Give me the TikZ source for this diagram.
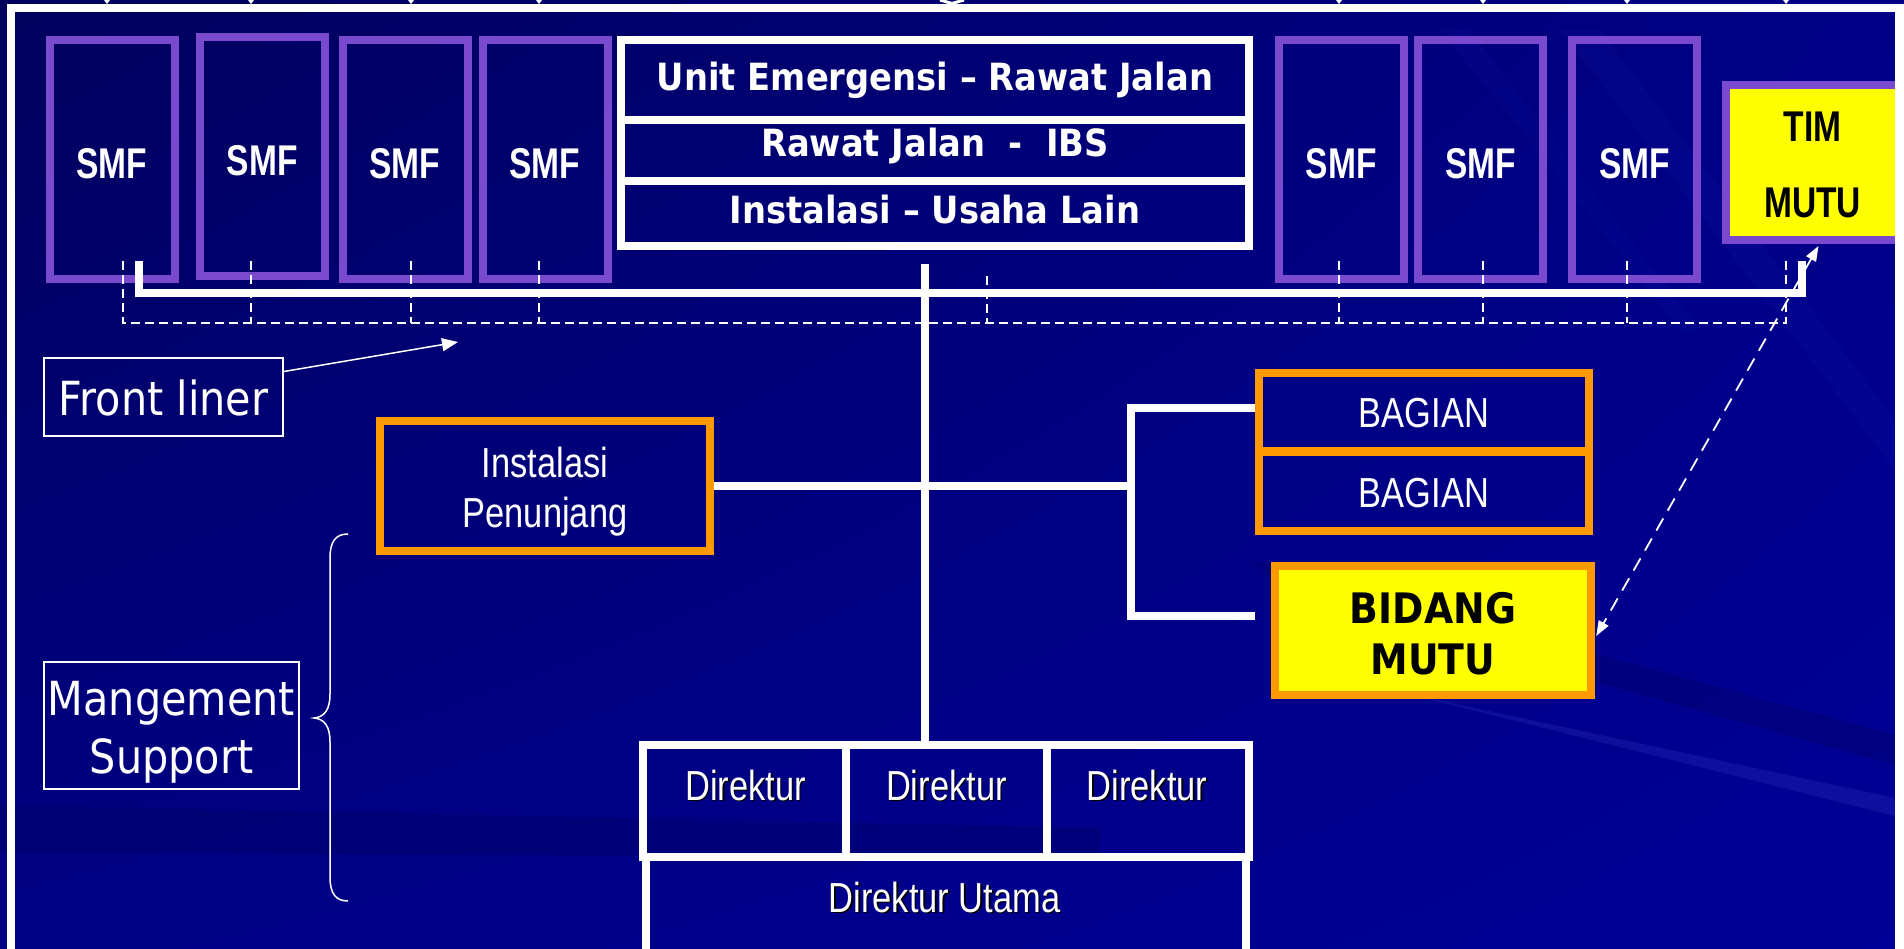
\documentclass[tikz,border=0pt]{standalone}
\usepackage{fontspec}
\setmainfont{Liberation Sans}
\newfontfamily\tah{DejaVu Sans}
\usepackage{graphicx}
\usetikzlibrary{arrows.meta,calc,shadings}

\definecolor{purp}{RGB}{122,74,206}
\definecolor{orng}{RGB}{255,153,0}
\definecolor{yel}{RGB}{255,255,0}
\definecolor{bgUL}{RGB}{0,0,92}
\definecolor{bgUR}{RGB}{0,0,135}
\definecolor{bgLL}{RGB}{0,0,132}
\definecolor{bgLR}{RGB}{0,0,150}
\definecolor{bgDark}{RGB}{0,0,100}
\definecolor{bgLight}{RGB}{30,30,170}

\newcommand\txA[1]{\fontsize{42}{42}\selectfont\scalebox{0.82}[1]{#1}}
\newcommand\txAB[1]{\fontsize{43}{43}\selectfont\bfseries\scalebox{0.78}[1]{#1}}
\newcommand\txT[1]{\tah\fontsize{47}{47}\selectfont\scalebox{0.88}[1]{#1}}
\newcommand\txTB[2]{\tah\bfseries\fontsize{#1}{#1}\selectfont\scalebox{0.9}[1]{#2}}

\begin{document}
\begin{tikzpicture}[x=1pt,y=-1pt,
  box/.style={draw, rectangle, inner sep=0pt},
  smf/.style={box, draw=purp, line width=8pt, minimum width=125pt, minimum height=239pt},
  wbox/.style={box, draw=white, line width=8pt},
  obox/.style={box, draw=orng, line width=8pt},
  thin/.style={box, draw=white, line width=2pt},
  wt/.style={text=white, anchor=base, inner sep=0pt},
  bt/.style={text=black, anchor=base, inner sep=0pt},
  thk/.style={white, line width=8pt},
  dsh/.style={white, line width=1.8pt, dash pattern=on 9pt off 5pt},
]
\useasboundingbox (0,0) rectangle (1904,949);
\clip (0,0) rectangle (1904,949);

% background
\shade[upper left=bgUL, upper right=bgUR, lower left=bgLL, lower right=bgLR] (0,0) rectangle (1904,949);
\fill[bgDark, opacity=.4] (0,805) -- (1100,828) -- (1100,858) -- (0,852) -- cycle;
\fill[bgDark, opacity=.35] (1250,560) -- (1895,735) -- (1895,765) -- (1300,600) -- cycle;
\fill[bgLight, opacity=.5] (1400,692) -- (1895,798) -- (1895,816) -- (1480,712) -- cycle;
\fill[bgLight, opacity=.15] (1560,30) -- (1600,30) -- (1895,420) -- (1895,470) -- cycle;
\fill[bgLight, opacity=.12] (1440,30) -- (1470,30) -- (1700,330) -- (1680,330) -- cycle;

% outer frame
\draw[white, line width=8pt] (11,1000) -- (11,8) -- (1910,8);

% cut-off arrow tips above the frame
\foreach \x in {107,251,411,539,1339,1483,1627,1786}
  \fill[white] (\x-3,0) -- (\x+3,0) -- (\x,4) -- cycle;
\draw[white, line width=3pt] (940,0) -- (952,3.5) -- (964,0);

% SMF boxes
\node[smf] (smf1) at (112,159.5) {};
\node[smf] (smf2) at (262.25,156.5) {};
\node[smf] (smf3) at (405,159.5) {};
\node[smf] (smf4) at (545,159.5) {};
\node[smf] (smf5) at (1341.25,159.5) {};
\node[smf] (smf6) at (1480.5,159.5) {};
\node[smf] (smf7) at (1634.5,159.5) {};
\node[wt] (t1) at (112,179) {\txAB{SMF}};
\node[wt] (t2) at (262.25,176) {\txAB{SMF}};
\node[wt] (t3) at (405,179) {\txAB{SMF}};
\node[wt] (t4) at (545,179) {\txAB{SMF}};
\node[wt] (t5) at (1341.25,179) {\txAB{SMF}};
\node[wt] (t6) at (1480.5,179) {\txAB{SMF}};
\node[wt] (t7) at (1634.5,179) {\txAB{SMF}};

% TIM MUTU
\node[box, draw=purp, fill=yel, line width=8pt, minimum width=173pt, minimum height=155pt] (tim) at (1812.5,162.5) {};
\node[bt] (timA) at (1812.5,142) {\txAB{TIM}};
\node[bt] (timB) at (1812.5,218) {\txAB{MUTU}};

% central unit box
\node[wbox, minimum width=628.5pt, minimum height=80pt] (r1) at (934.75,80) {};
\node[wbox, minimum width=628.5pt, minimum height=61pt] (r2) at (934.75,150.5) {};
\node[wbox, minimum width=628.5pt, minimum height=65pt] (r3) at (934.75,213.5) {};
\node[wt] (r1t) at (935,91) {\txTB{37.5}{Unit Emergensi – Rawat Jalan}};
\node[wt] (r2t) at (935,157) {\txTB{37.5}{Rawat Jalan\ \ -\ \ IBS}};
\node[wt] (r3t) at (935,224) {\txTB{37.5}{Instalasi – Usaha Lain}};

% dashed front-liner bracket
\coordinate (dTL) at (123,261);
\coordinate (dL) at (123,323);
\coordinate (dR) at (1786,323);
\coordinate (dTR) at (1786,261);
\draw[dsh] (dTL) -- (dL) -- (dR) -- (dTR);
\foreach \x in {251,411,539,1339,1483,1627}
  \draw[dsh] (\x,261) -- (\x,323);
\draw[dsh] (987,276) -- (987,323);

% thick bracket under top row
\coordinate (kL) at (139,261);
\coordinate (kR) at (1802,261);
\draw[thk] (kL) -- (139,293) -- (1802,293) -- (kR);

% Front liner / Mangement Support
\node[thin, minimum width=239pt, minimum height=78pt] (fl) at (163.5,397) {};
\node[wt] (flt) at (163.5,416) {\txT{Front liner}};
\coordinate (flB) at (458,342);
\draw[white, line width=1.5pt, -{Triangle[length=16pt,width=13pt]}] ($(fl.north east)+(0,14.5)$) -- (flB);

\node[thin, minimum width=254.5pt, minimum height=127pt] (ms) at (171.25,725.5) {};
\node[wt] (mst1) at (171.5,715) {\txT{Mangement}};
\node[wt] (mst2) at (171.5,773) {\txT{Support}};

% brace
\draw[white, line width=1.5pt] (348,534) .. controls (336,534) and (330,541) .. (330,558) -- (330,694)
  .. controls (330,709) and (325,717) .. (314,718) .. controls (325,719) and (330,727) .. (330,742)
  -- (330,877) .. controls (330,894) and (336,901) .. (348,901);

% Instalasi Penunjang
\node[obox, minimum width=330.4pt, minimum height=129.5pt] (ip) at (544.8,485.75) {};
\node[wt] (ipt1) at (545,477) {\txA{Instalasi}};
\node[wt] (ipt2) at (545,527) {\txA{Penunjang}};

% BAGIAN boxes and BIDANG MUTU
\node[obox, minimum width=330pt, minimum height=78pt] (b1) at (1424,412) {};
\node[obox, minimum width=330pt, minimum height=79pt] (b2) at (1424,491.5) {};
\node[wt] (b1t) at (1424,428) {\txA{BAGIAN}};
\node[wt] (b2t) at (1424,507) {\txA{BAGIAN}};
\node[box, draw=orng, fill=yel, line width=8.5pt, minimum width=316pt, minimum height=129pt] (bm) at (1433,630.5) {};
\node[bt] (bmt1) at (1433,623) {\txTB{42}{BIDANG}};
\node[bt] (bmt2) at (1433,674) {\txTB{42}{MUTU}};

% Direktur boxes
\node[wbox, minimum width=203pt, minimum height=112pt] (d1) at (744,801) {};
\node[wbox, minimum width=201pt, minimum height=112pt] (d2) at (946,801) {};
\node[wbox, minimum width=202.5pt, minimum height=112pt] (d3) at (1147.75,801) {};
\node[wbox, minimum width=600.5pt, minimum height=143pt] (du) at (945.75,928.5) {};
\foreach \n/\x in {1/745.5,2/946.4,3/1147}{
  \node[bt] (ds\n) at (\x+1.5,801.5) {\txA{Direktur}};
  \node[wt] (dt\n) at (\x,800) {\txA{Direktur}};
}
\node[bt] (dus) at (946.1,913.5) {\txA{Direktur Utama}};
\node[wt] (dut) at (944.6,912) {\txA{Direktur Utama}};

% trunk and branches
\coordinate (ctop) at (925,264);
\draw[thk] (ctop) -- (ctop |- d2.north);
\coordinate (brT) at (1131,408);
\coordinate (brB) at (1131,616);
\draw[thk] (ip.east) -- (ip.east -| brT);
\draw[thk] (b1.west |- brT) -- (brT) -- (brB) -- (b1.west |- brB);

% dashed double arrow TIM MUTU <-> BIDANG MUTU
\draw[white, line width=1.8pt, dash pattern=on 14pt off 9pt,
  {Triangle[length=15pt,width=11pt]}-{Triangle[length=15pt,width=11pt]}]
  ($(tim.south)+(6,2)$) -- ($(bm.east)+(1,5.5)$);

% page edge
\fill[white] (1895,4) rectangle (1904,949);
\end{tikzpicture}
\end{document}
